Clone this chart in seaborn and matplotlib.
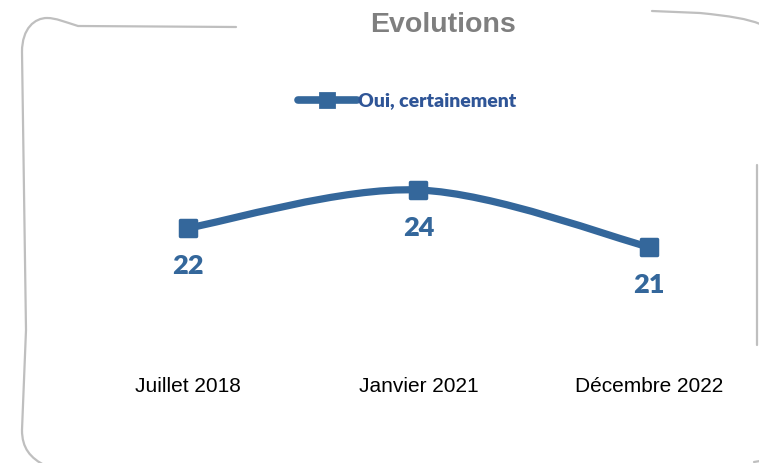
import numpy as np
import pandas as pd
import matplotlib.pyplot as plt
import seaborn as sns
from matplotlib.path import Path
from matplotlib.patches import PathPatch
from matplotlib.lines import Line2D

# données
periodes = ['Juillet 2018', 'Janvier 2021', 'Décembre 2022']
valeurs = [22, 24, 21]
serie = 'Oui, certainement'

BLEU = '#34679B'
BLEU_LEG = '#2F5597'
GRIS = '#BFBFBF'
W, H = 759, 463

sns.set_theme(style='white')
plt.rcParams['font.family'] = ['Liberation Sans', 'DejaVu Sans']

df = pd.DataFrame({'periode': periodes, 'valeur': valeurs})
df['x'] = range(len(df))


def courbe_lissee(xs, ys, t=1/6):
    """Courbe lissée type Excel (Bezier Catmull-Rom) passant par les points"""
    pts = np.column_stack([xs, ys]).astype(float)
    verts = [pts[0]]; codes = [Path.MOVETO]
    n = len(pts)
    for i in range(n - 1):
        p0 = pts[max(i - 1, 0)]; p1 = pts[i]; p2 = pts[i + 1]; p3 = pts[min(i + 2, n - 1)]
        verts += [p1 + (p2 - p0) * t, p2 - (p3 - p1) * t, p2]
        codes += [Path.CURVE4] * 3
    return Path(verts, codes)


def px(pts):
    return [(x / W, 1 - y / H) for x, y in pts]


fig = plt.figure(figsize=(W / 100, H / 100), dpi=100)
ax = fig.add_axes([40 / W, 1 - 360 / H, 700 / W, 220 / H])

ax.add_patch(PathPatch(courbe_lissee(df['x'], df['valeur']), fill=False,
                       edgecolor=BLEU, lw=5.2, capstyle='round', joinstyle='round', zorder=2))
sns.scatterplot(data=df, x='x', y='valeur', marker='s', s=130, color=BLEU,
                edgecolor=BLEU, linewidth=2.5, ax=ax, zorder=3, legend=False)
ax.collections[-1].set_joinstyle('round')

for x, v in zip(df['x'], df['valeur']):
    ax.annotate(str(v), (x, v), xytext=(0, -27.5), textcoords='offset points',
                ha='center', va='center', fontsize=19.5, fontweight='heavy',
                color=BLEU, family=['Lato', 'DejaVu Sans'])

ax.set_xlim(-0.642, 2.395)
ax.set_ylim(15.05, 26.63)
ax.set_xticks(df['x'], periodes)
ax.set_yticks([])
ax.tick_params(axis='x', length=0, pad=12, labelsize=15, colors='black')
ax.set_xlabel(''); ax.set_ylabel('')
sns.despine(ax=ax, left=True, bottom=True)

fig.text(443 / W, 1 - 25 / H, 'Evolutions', ha='center', va='center',
         fontsize=20.5, fontweight='bold', color='#7F7F7F')

poignee = Line2D([], [], color=BLEU, lw=5.5, marker='s', markersize=10.5,
                 markeredgewidth=2, solid_capstyle='round')
fig.legend(handles=[poignee], labels=[serie], loc='center',
           bbox_to_anchor=(407 / W, 1 - 101 / H), frameon=False,
           handlelength=3.0, handletextpad=0.05, labelcolor=BLEU_LEG,
           prop={'family': 'Lato', 'weight': 'heavy', 'size': 14})

# cadre dessiné à main levée
M, L, C = Path.MOVETO, Path.LINETO, Path.CURVE4
cadres = [
    ([(236, 27), (78, 26), (65, 22), (56, 18), (47, 18), (35, 18), (22, 28), (22, 52),
      (26, 330), (22, 430), (22, 448), (30, 458), (46, 466)],
     [M, L, C, C, C, C, C, C, L, L, C, C, C]),
    ([(652, 11), (700, 13), (730, 16), (748, 19), (760, 24)], [M, L, C, C, C]),
    ([(757, 165), (757, 345)], [M, L]),
    ([(754, 462), (760, 461)], [M, L]),
]
for pts, codes in cadres:
    fig.add_artist(PathPatch(Path(px(pts), codes), fill=False, edgecolor=GRIS,
                             lw=1.6, transform=fig.transFigure, capstyle='round'))

fig.savefig('out.png', dpi=100)
